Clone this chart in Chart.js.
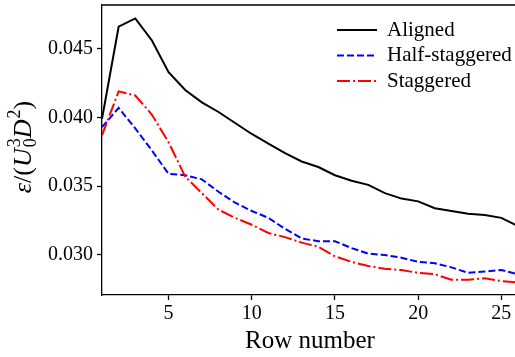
<!DOCTYPE html>
<html>
<head>
<meta charset="utf-8">
<script src="https://cdn.jsdelivr.net/npm/chart.js@4/dist/chart.umd.min.js"></script>
<style>
  html, body { margin: 0; padding: 0; background: #fff; overflow: hidden; }
  #wrap { position: absolute; left: 0; top: 0; width: 522px; height: 357px; }
</style>
</head>
<body>
<div id="wrap"><canvas id="myChart"></canvas></div>
<script>
const rows = [1, 2, 3, 4, 5, 6, 7, 8, 9, 10, 11, 12, 13, 14, 15, 16, 17, 18, 19, 20, 21, 22, 23, 24, 25, 26];
const aligned = [0.0399, 0.0466, 0.0472, 0.0456, 0.0433, 0.0420, 0.0411, 0.0404, 0.0396, 0.0388, 0.0381, 0.0374, 0.0368,
  0.0364, 0.0358, 0.0354, 0.0351, 0.0345, 0.0341, 0.0339, 0.0334, 0.0332, 0.0330, 0.0329, 0.0327, 0.0321];
const halfStaggered = [0.0393, 0.0407, 0.0392, 0.0376, 0.0359, 0.0358, 0.0355, 0.0346, 0.0338, 0.0332, 0.0327, 0.0319, 0.0312,
  0.0310, 0.0310, 0.0305, 0.0301, 0.0300, 0.0298, 0.0295, 0.0294, 0.0291, 0.0287, 0.0288, 0.0289, 0.0286];
const staggered = [0.0387, 0.0419, 0.0416, 0.0402, 0.0382, 0.0357, 0.0345, 0.0333, 0.0327, 0.0322, 0.0316, 0.0313, 0.0309,
  0.0306, 0.0299, 0.0295, 0.0292, 0.0290, 0.0289, 0.0287, 0.0286, 0.0282, 0.0282, 0.0283, 0.0281, 0.0280];
const xTicks = [5, 10, 15, 20, 25];
const yTicks = [0.030, 0.035, 0.040, 0.045];
const seriesNames = ["Aligned", "Half-staggered", "Staggered"];

const SERIF = "'Liberation Serif', 'Times New Roman', serif";

// legend drawn inside the plot, top right
const legendPlugin = {
  id: "innerLegend",
  afterDraw: (chart) => {
    const { ctx } = chart;
    const rowsY = [30, 55.5, 81];
    ctx.save();
    chart.data.datasets.forEach((ds, i) => {
      const y = rowsY[i];
      ctx.beginPath();
      ctx.strokeStyle = ds.borderColor;
      ctx.lineWidth = ds.borderWidth;
      ctx.setLineDash(ds.borderDash || []);
      ctx.moveTo(337, y);
      ctx.lineTo(377, y);
      ctx.stroke();
      ctx.setLineDash([]);
      ctx.fillStyle = "#000";
      ctx.font = "21px " + SERIF;
      ctx.textBaseline = "middle";
      ctx.textAlign = "left";
      ctx.fillText(ds.label, 387, y);
    });
    ctx.restore();
  },
};

// top spine + y axis title with sub/superscripts
const framePlugin = {
  id: "frame",
  afterDraw: (chart) => {
    const { ctx, chartArea } = chart;
    ctx.save();
    ctx.strokeStyle = "#000";
    ctx.lineWidth = 1.3;
    ctx.beginPath();
    ctx.moveTo(chartArea.left - 0.6, chartArea.top);
    ctx.lineTo(chartArea.right + 2, chartArea.top);
    ctx.stroke();

    const size = 26, small = 18;
    const parts = [
      { t: "\u03b5", f: "italic " + size + "px " + SERIF },
      { t: "/(", f: size + "px " + SERIF },
      { t: "U", f: "italic " + size + "px " + SERIF },
      { t: "3", f: small + "px " + SERIF, dy: -11, stackWith: "0", sdy: 5 },
      { t: "D", f: "italic " + size + "px " + SERIF },
      { t: "2", f: small + "px " + SERIF, dy: -11 },
      { t: ")", f: size + "px " + SERIF },
    ];
    let total = 0;
    parts.forEach((p) => {
      ctx.font = p.f;
      p.w = ctx.measureText(p.t).width;
      if (p.stackWith) p.w = Math.max(p.w, ctx.measureText(p.stackWith).width);
      total += p.w + (p.dy ? 1 : 0);
    });
    ctx.translate(31, (chartArea.top + chartArea.bottom) / 2 - 3);
    ctx.rotate(-Math.PI / 2);
    ctx.fillStyle = "#000";
    ctx.textBaseline = "alphabetic";
    ctx.textAlign = "left";
    let x = -total / 2;
    parts.forEach((p) => {
      ctx.font = p.f;
      if (p.dy) x += 1;
      ctx.fillText(p.t, x, p.dy || 0);
      if (p.stackWith) ctx.fillText(p.stackWith, x, p.sdy);
      x += p.w;
    });
    ctx.restore();
  },
};

const ctx = document.getElementById("myChart").getContext("2d");
new Chart(ctx, {
  type: "line",
  data: {
    datasets: [
      {
        label: seriesNames[0],
        data: rows.map((r, i) => ({ x: r, y: aligned[i] })),
        borderColor: "#000000",
        borderWidth: 2,
        order: 2,
      },
      {
        label: seriesNames[1],
        data: rows.map((r, i) => ({ x: r, y: halfStaggered[i] })),
        borderColor: "#0000ff",
        borderWidth: 2,
        borderDash: [7, 3],
        order: 1,
      },
      {
        label: seriesNames[2],
        data: rows.map((r, i) => ({ x: r, y: staggered[i] })),
        borderColor: "#ff0000",
        borderWidth: 2,
        borderDash: [13, 3, 2, 3],
        order: 0,
      },
    ],
  },
  plugins: [legendPlugin, framePlugin],
  options: {
    responsive: true,
    maintainAspectRatio: false,
    animation: false,
    layout: { padding: { top: 5, right: 4, left: 0, bottom: 0 } },
    elements: {
      point: { radius: 0 },
      line: { tension: 0, fill: false },
    },
    plugins: {
      legend: { display: false },
      tooltip: { enabled: false },
    },
    scales: {
      x: {
        type: "linear",
        min: 1,
        max: 26,
        afterBuildTicks: (scale) => {
          scale.ticks = xTicks.map((v) => ({ value: v }));
        },
        afterFit: (scale) => {
          scale.height = 62;
          scale.paddingLeft = 0;
          scale.paddingRight = 0;
        },
        ticks: {
          color: "#000",
          font: { family: SERIF, size: 20 },
          padding: 2,
          maxRotation: 0,
        },
        grid: {
          drawOnChartArea: false,
          tickLength: 5,
          tickColor: "#000",
          tickWidth: 1.3,
        },
        border: { color: "#000", width: 1.3 },
        title: {
          display: true,
          text: "Row number",
          color: "#000",
          font: { family: SERIF, size: 25 },
          padding: { top: 0, bottom: 1 },
        },
      },
      y: {
        type: "linear",
        min: 0.02709,
        max: 0.04818,
        afterBuildTicks: (scale) => {
          scale.ticks = yTicks.map((v) => ({ value: v }));
        },
        afterFit: (scale) => {
          scale.width = 102;
          scale.paddingTop = 0;
          scale.paddingBottom = 0;
        },
        ticks: {
          color: "#000",
          font: { family: SERIF, size: 20 },
          padding: 4,
          callback: (v) => v.toFixed(3),
        },
        grid: {
          drawOnChartArea: false,
          tickLength: 5,
          tickColor: "#000",
          tickWidth: 1.3,
        },
        border: { color: "#000", width: 1.3 },
      },
    },
  },
});
</script>
</body>
</html>
